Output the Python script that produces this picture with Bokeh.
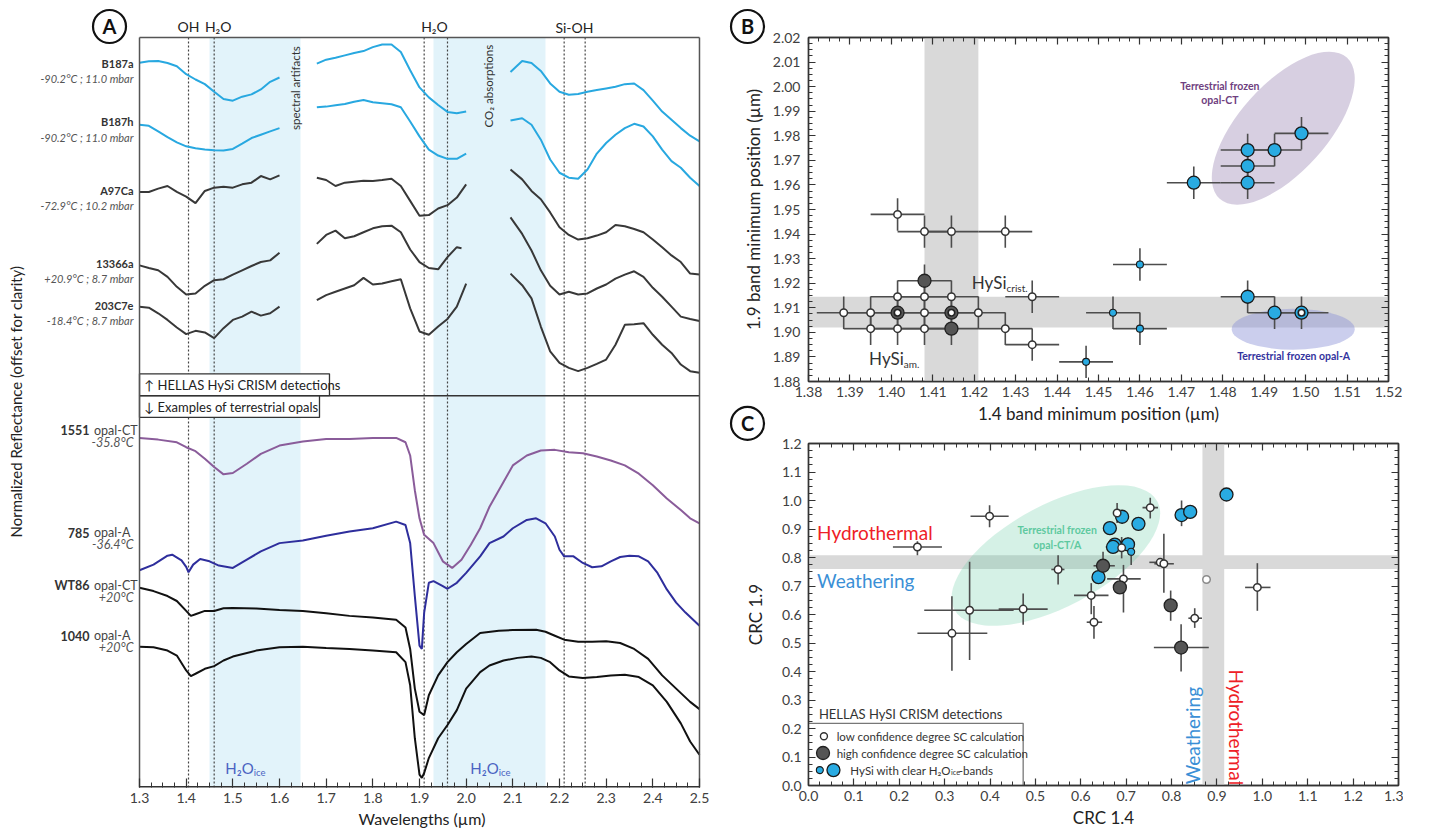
import numpy as np
from bokeh.plotting import figure
from bokeh.models import Range1d, Label, BoxAnnotation, LinearAxis, FixedTicker, NumeralTickFormatter, Title
from bokeh.layouts import row, column
from bokeh.embed import file_html
from bokeh.resources import INLINE

FONT = "Lato"
nan = float("nan")

# ======================= PANEL A DATA (offset reflectance, arbitrary units, increasing downward) =======================
SEG1_WL = [1.30, 1.32, 1.34, 1.36, 1.38, 1.40, 1.42, 1.44, 1.46, 1.48, 1.50, 1.52, 1.54, 1.56, 1.58, 1.60]
SEG2_WL = [1.68, 1.70, 1.72, 1.74, 1.76, 1.78, 1.80, 1.82, 1.84, 1.86, 1.88, 1.90, 1.92, 1.94, 1.96, 1.98, 2.00]
SEG2_WL_B = [1.68, 1.70, 1.72, 1.74, 1.76, 1.78, 1.80, 1.82, 1.84, 1.86, 1.88, 1.90, 1.92, 1.94, 1.96, 1.98, 1.99]
SEG3_WL = [2.095, 2.12, 2.14, 2.16, 2.18, 2.20, 2.22, 2.24, 2.26, 2.28, 2.30, 2.32, 2.34, 2.36, 2.38, 2.40,
           2.42, 2.44, 2.46, 2.48, 2.50]

B187A_1 = [187, 183, 182, 188, 198, 222, 238, 252, 275, 297, 302, 290, 283, 268, 245, 232]
B187A_2 = [190, 178, 172, 165, 158, 152, 140, 132, 132, 155, 210, 262, 292, 315, 336, 340, 335]
B187A_3 = [215, 182, 188, 212, 250, 275, 284, 282, 275, 270, 265, 260, 252, 250, 270, 302, 335, 360, 385, 408, 425]

B187H_1 = [375, 378, 395, 412, 428, 440, 446, 450, 452, 453, 448, 432, 415, 405, 395, 385]
B187H_2 = [322, 320, 316, 312, 305, 300, 307, 310, 313, 322, 365, 410, 450, 468, 478, 478, 462]
B187H_3 = [362, 355, 375, 420, 480, 520, 535, 538, 510, 462, 430, 405, 385, 372, 380, 410, 450, 485, 505, 535, 560]

A97CA_1 = [578, 578, 568, 560, 578, 592, 612, 575, 565, 562, 565, 555, 550, 530, 540, 528]
A97CA_2 = [535, 542, 560, 550, 547, 544, 545, 542, 538, 560, 605, 650, 648, 628, 618, 595, 555]
A97CA_3 = [510, 540, 575, 600, 640, 685, 708, 722, 718, 710, 700, 678, 682, 690, 700, 722, 745, 770, 790, 825, 828]

S13366A_1 = [800, 808, 815, 835, 865, 888, 885, 862, 845, 842, 828, 815, 802, 790, 785, 762]
S13366A_2 = [735, 708, 695, 718, 712, 700, 688, 682, 680, 700, 752, 790, 808, 812, 775, 745, 748]
S13366A_3 = [655, 705, 755, 815, 862, 888, 880, 888, 885, 870, 858, 840, 828, 818, 835, 868, 895, 925, 955, 962, 968]

S203C7E_1 = [925, 928, 945, 965, 988, 1008, 998, 1003, 1020, 990, 965, 955, 940, 952, 945, 925]
S203C7E_2 = [905, 890, 880, 870, 860, 838, 858, 855, 848, 842, 930, 1000, 1010, 985, 962, 925, 855]
S203C7E_3 = [825, 860, 900, 985, 1060, 1095, 1110, 1120, 1110, 1098, 1085, 1040, 980, 978, 975, 1010, 1040, 1065,
             1100, 1120, 1125]

L1551_WL = [1.30, 1.34, 1.38, 1.40, 1.42, 1.44, 1.46, 1.48, 1.50, 1.53, 1.56, 1.60, 1.65, 1.70, 1.75, 1.80, 1.85,
            1.87, 1.88, 1.89, 1.90, 1.91, 1.93, 1.95, 1.97, 1.99, 2.01, 2.03, 2.05, 2.08, 2.10, 2.13, 2.16, 2.19,
            2.22, 2.25, 2.28, 2.31, 2.34, 2.37, 2.40, 2.43, 2.46, 2.48, 2.50]
L1551 = [122, 127, 135, 150, 162, 185, 210, 232, 228, 200, 170, 145, 133, 125, 125, 122, 122, 135, 175, 280, 365,
         415, 440, 495, 515, 490, 445, 395, 330, 255, 205, 175, 160, 158, 165, 168, 178, 190, 205, 230, 265, 305,
         340, 365, 380]

L785_WL = [1.30, 1.33, 1.36, 1.37, 1.39, 1.40, 1.405, 1.415, 1.43, 1.45, 1.47, 1.50, 1.53, 1.56, 1.60, 1.65, 1.70,
           1.75, 1.80, 1.85, 1.87, 1.88, 1.89, 1.90, 1.905, 1.91, 1.92, 1.93, 1.95, 1.96, 1.98, 2.00, 2.03, 2.05,
           2.08, 2.10, 2.13, 2.15, 2.17, 2.19, 2.20, 2.21, 2.23, 2.25, 2.27, 2.29, 2.31, 2.33, 2.35, 2.37, 2.39,
           2.41, 2.43, 2.45, 2.47, 2.50]
L785 = [522, 505, 478, 475, 492, 512, 528, 505, 488, 495, 508, 515, 490, 465, 440, 432, 418, 405, 395, 375, 385,
        440, 600, 750, 760, 650, 560, 555, 570, 578, 560, 530, 480, 440, 420, 395, 370, 365, 380, 420, 460, 480,
        480, 500, 513, 510, 495, 482, 478, 480, 495, 530, 580, 620, 650, 690]

LWT86_WL = [1.30, 1.33, 1.36, 1.38, 1.40, 1.41, 1.42, 1.44, 1.46, 1.48, 1.50, 1.55, 1.60, 1.65, 1.70, 1.75, 1.80,
            1.85, 1.87, 1.88, 1.89, 1.90, 1.91, 1.92, 1.94, 1.96, 1.98, 2.00, 2.03, 2.07, 2.10, 2.15, 2.17, 2.19,
            2.21, 2.24, 2.27, 2.30, 2.33, 2.36, 2.39, 2.42, 2.45, 2.48, 2.50]
LWT86 = [575, 585, 600, 615, 645, 660, 655, 645, 645, 637, 636, 638, 642, 645, 652, 660, 665, 672, 695, 760, 880,
         950, 960, 900, 840, 800, 770, 745, 712, 705, 703, 702, 708, 720, 732, 738, 738, 737, 742, 760, 790, 840,
         880, 920, 942]

L1040_WL = [1.30, 1.33, 1.36, 1.38, 1.40, 1.41, 1.42, 1.44, 1.46, 1.48, 1.50, 1.55, 1.60, 1.65, 1.70, 1.75, 1.80,
            1.85, 1.87, 1.88, 1.89, 1.90, 1.905, 1.91, 1.92, 1.94, 1.96, 1.98, 2.00, 2.03, 2.05, 2.08, 2.11, 2.14,
            2.16, 2.18, 2.20, 2.22, 2.25, 2.28, 2.31, 2.34, 2.37, 2.40, 2.43, 2.46, 2.48, 2.50]
L1040 = [753, 755, 765, 780, 825, 842, 835, 820, 812, 795, 783, 765, 755, 753, 757, 760, 765, 770, 800, 870, 1030,
         1140, 1150, 1135, 1090, 1030, 990, 945, 880, 830, 810, 795, 787, 783, 787, 800, 825, 843, 848, 845, 840,
         838, 845, 870, 920, 985, 1040, 1080]
LAB_OFFSET = 1200

CRISM_NAMES = ["B187a", "B187h", "A97Ca", "13366a", "203C7e"]
CRISM_COND = ["-90.2°C ; 11.0 mbar", "-90.2°C ; 11.0 mbar", "-72.9°C ; 10.2 mbar", "+20.9°C ; 8.7 mbar",
              "-18.4°C ; 8.7 mbar"]
LAB_NAMES = ["1551", "785", "WT86", "1040"]
LAB_TYPES = ["opal-CT", "opal-A", "opal-CT", "opal-A"]
LAB_TEMPS = ["-35.8°C", "-36.4°C", "+20°C", "+20°C"]

ABS_LINES = [1.405, 1.46, 1.91, 1.96, 2.21, 2.255]
ICE_BANDS = [(1.45, 1.645), (1.93, 2.17)]

# ======================= PANEL B DATA =======================
B_X = [1.4015, 1.408, 1.4145, 1.4275, 1.408, 1.4015, 1.408, 1.4145, 1.434, 1.3885, 1.395, 1.4015, 1.408, 1.4145,
       1.421, 1.395, 1.4015, 1.408, 1.4145, 1.4275, 1.434, 1.447, 1.4535, 1.460, 1.460, 1.473, 1.486, 1.486, 1.486,
       1.4925, 1.499, 1.486, 1.4925, 1.499]
B_Y = [1.948, 1.941, 1.941, 1.941, 1.921, 1.9145, 1.9145, 1.9145, 1.9145, 1.908, 1.908, 1.908, 1.908, 1.908,
       1.908, 1.9015, 1.9015, 1.9015, 1.9015, 1.9015, 1.895, 1.888, 1.908, 1.9015, 1.9276, 1.9609, 1.9609, 1.9677,
       1.9742, 1.9742, 1.981, 1.9145, 1.908, 1.908]
B_KIND = ["low", "low", "low", "low", "high", "low", "low", "low", "low", "low", "low", "both", "low", "both",
          "low", "low", "low", "low", "high", "low", "low", "hysi_s", "hysi_s", "hysi_s", "hysi_s", "hysi", "hysi",
          "hysi", "hysi", "hysi", "hysi", "hysi", "hysi", "hysi_ring"]
B_XERR = 0.0065
B_YERR = 0.0066

# ======================= PANEL C DATA =======================
C_X = [0.399, 0.240, 0.550, 0.473, 0.355, 0.316, 0.623, 0.629, 0.680, 0.753, 0.690, 0.694, 0.775, 0.783, 0.877,
       0.989, 0.851, 0.649, 0.686, 0.798, 0.821, 0.921, 0.822, 0.841, 0.691, 0.727, 0.664, 0.675, 0.671, 0.704,
       0.639, 0.711]
C_Y = [0.945, 0.837, 0.758, 0.619, 0.615, 0.534, 0.667, 0.573, 0.956, 0.975, 0.834, 0.725, 0.783, 0.778, 0.723,
       0.695, 0.587, 0.771, 0.695, 0.632, 0.484, 1.021, 0.949, 0.960, 0.943, 0.918, 0.903, 0.845, 0.837, 0.846,
       0.731, 0.820]
C_XLO = [0.357, 0.186, 0.535, 0.419, 0.255, 0.240, 0.585, 0.613, 0.672, 0.736, nan, 0.658, 0.751, 0.762, nan,
         0.962, 0.837, 0.628, nan, 0.785, 0.761, nan, nan, nan, nan, nan, nan, nan, 0.655, nan, nan, nan]
C_XHI = [0.441, 0.294, 0.564, 0.527, 0.452, 0.394, 0.661, 0.647, 0.688, 0.770, nan, 0.732, 0.792, 0.805, nan,
         1.018, 0.867, 0.675, nan, 0.812, 0.882, nan, nan, nan, nan, nan, nan, nan, 0.685, nan, nan, nan]
C_YLO = [0.906, 0.808, 0.705, 0.564, 0.440, 0.403, 0.601, 0.515, 0.921, 0.937, 0.797, 0.607, nan, 0.676, nan,
         0.613, 0.553, 0.728, 0.680, 0.578, 0.400, nan, 0.910, nan, nan, nan, nan, nan, nan, 0.820, nan, 0.774]
C_YHI = [0.983, 0.857, 0.808, 0.674, 0.785, 0.664, 0.710, 0.630, 0.991, 1.010, 0.872, 0.774, nan, 0.883, nan,
         0.780, 0.622, 0.820, 0.712, 0.684, 0.566, nan, 1.000, nan, nan, nan, nan, nan, nan, 0.870, nan, 0.843]
C_KIND = ["low", "low", "low", "low", "low", "low", "low", "low", "low", "low", "low", "low", "low", "low",
          "faint", "low", "low", "high", "high", "high", "high", "hysi", "hysi", "hysi", "hysi", "hysi", "hysi",
          "hysi", "hysi", "hysi", "hysi", "hysi_s"]

# ======================= STYLES =======================
CRISM_BLUE = "#28a8e0"
CRISM_DARK = "#383838"
PURPLE = "#8a5c9a"
NAVY = "#2e2e9c"
BLACK = "#111111"
PT_BLUE = "#29abe2"
PT_DARK = "#555555"
GRAY_BAND = "#d9d9d9"
ICE_BLUE = "#e2f3fa"
BOX_TOP, BOX_BOTTOM = 111, 2379      # panel A box limits in offset units


def lab(p, x, y, text, size=12, color="#333333", style="normal", align="left", baseline="middle", angle=0):
    p.add_layout(Label(x=x, y=y, text=text, text_font=FONT, text_font_size=f"{size}px", text_color=color,
                       text_font_style=style, text_align=align, text_baseline=baseline, angle=angle,
                       angle_units="deg"))


def style_axis(ax, ticks, minor, fmt, labels=True):
    ax.ticker = FixedTicker(ticks=ticks, minor_ticks=minor)
    ax.formatter = NumeralTickFormatter(format=fmt)
    ax.major_tick_in = 7
    ax.major_tick_out = 0
    ax.minor_tick_in = 4
    ax.minor_tick_out = 0
    ax.axis_line_color = "#333333"
    ax.axis_line_width = 1.4
    ax.major_tick_line_color = "#333333"
    ax.major_tick_line_width = 1.2
    ax.minor_tick_line_color = "#333333"
    ax.minor_tick_line_width = 1
    ax.major_label_text_font = FONT
    ax.major_label_standoff = 5
    if labels:
        ax.major_label_text_font_size = "14px"
        ax.major_label_text_color = "#404040"
    else:
        ax.major_label_text_font_size = "1px"
        ax.major_label_text_color = None
    ax.axis_label_text_font = FONT
    ax.axis_label_text_font_style = "normal"
    ax.axis_label_text_font_size = "17px"
    ax.axis_label_text_color = "#222222"
    ax.axis_label_standoff = 3


def ticks(a, b, step, nd):
    return [round(v, nd) for v in np.arange(a, b + step / 2, step)]


# ======================= PANEL A (frame extended over the label margins) =======================
pA = figure(frame_width=768, frame_height=787, x_range=Range1d(1.0021, 2.6479), y_range=Range1d(2379, -0.9),
            output_backend="svg", toolbar_location=None, min_border_left=0, min_border_right=0,
            min_border_top=0, min_border_bottom=44)
pA.xgrid.visible = False
pA.ygrid.visible = False
pA.yaxis.visible = False
pA.outline_line_color = None
style_axis(pA.xaxis[0], ticks(1.3, 2.5, 0.1, 2), ticks(1.3, 2.5, 0.025, 3), "0.0")
pA.xaxis.major_tick_in = 9
pA.xaxis.minor_tick_in = 5
pA.xaxis.axis_line_color = None
pA.add_layout(Title(text="Wavelengths (µm)", align="left", offset=358, text_font=FONT, text_font_size="16px",
                    text_font_style="normal", text_color="#222222", standoff=2), "below")

for lo, hi in ICE_BANDS:
    pA.add_layout(BoxAnnotation(left=lo, right=hi, top=BOX_TOP, bottom=BOX_BOTTOM, fill_color=ICE_BLUE,
                                fill_alpha=1, line_color=None, level="underlay"))
pA.segment(x0=ABS_LINES, x1=ABS_LINES, y0=BOX_TOP, y1=BOX_BOTTOM, line_color="#444444", line_width=1.2,
           line_dash="2 2")

crism = [
    (CRISM_BLUE, [(SEG1_WL, B187A_1), (SEG2_WL, B187A_2), (SEG3_WL, B187A_3)]),
    (CRISM_BLUE, [(SEG1_WL, B187H_1), (SEG2_WL, B187H_2), (SEG3_WL, B187H_3)]),
    (CRISM_DARK, [(SEG1_WL, A97CA_1), (SEG2_WL, A97CA_2), (SEG3_WL, A97CA_3)]),
    (CRISM_DARK, [(SEG1_WL, S13366A_1), (SEG2_WL_B, S13366A_2), (SEG3_WL, S13366A_3)]),
    (CRISM_DARK, [(SEG1_WL, S203C7E_1), (SEG2_WL, S203C7E_2), (SEG3_WL, S203C7E_3)]),
]
for color, segs in crism:
    for wl, vals in segs:
        pA.line(wl, vals, line_color=color, line_width=2)

labspec = [(PURPLE, L1551_WL, L1551), (NAVY, L785_WL, L785), (BLACK, LWT86_WL, LWT86), (BLACK, L1040_WL, L1040)]
for color, wl, vals in labspec:
    pA.line(wl, [v + LAB_OFFSET for v in vals], line_color=color, line_width=2)

# legend boxes / separator / visible frame of panel A
pA.quad(left=[1.3, 1.3], right=[1.7071, 1.6857], top=[1128, 1194], bottom=[1194, 1260], fill_color="white",
        line_color="#333333", line_width=1.3)
pA.segment(x0=[1.3], x1=[2.5], y0=[1194], y1=[1194], line_color="#333333", line_width=1.5)
pA.segment(x0=[1.3, 1.3, 2.5, 1.3], x1=[2.5, 1.3, 2.5, 2.5], y0=[BOX_TOP, BOX_TOP, BOX_TOP, BOX_BOTTOM],
           y1=[BOX_TOP, BOX_BOTTOM, BOX_BOTTOM, BOX_BOTTOM], line_color=["#555555", "#555555", "#555555", "#333333"],
           line_width=[1.5, 1.5, 1.5, 3])
lab(pA, 1.3107, 1161, "↑ HELLAS HySi CRISM detections", 13, "#222222")
lab(pA, 1.3107, 1227, "↓ Examples of terrestrial opals", 13, "#222222")

CRISM_LABEL_Y = [189, 366, 573, 795, 921]
for name, cond, yy in zip(CRISM_NAMES, CRISM_COND, CRISM_LABEL_Y):
    lab(pA, 1.2871, yy, name, 11, "#333333", "bold", "right")
    lab(pA, 1.2871, yy + 46, cond, 11, "#555555", "italic", "right")
LAB_LABEL_Y = [1299, 1608, 1767, 1920]
for name, typ, temp, yy in zip(LAB_NAMES, LAB_TYPES, LAB_TEMPS, LAB_LABEL_Y):
    lab(pA, 1.1929, yy, name, 12.5, "#333333", "bold", "right")
    lab(pA, 1.2025, yy, typ, 12.5, "#444444", "normal", "left")
    lab(pA, 1.2871, yy + 36, temp, 12.5, "#555555", "italic", "right")

lab(pA, 1.0343, 1212, "Normalized Reflectance (offset for clarity)", 15, "#222222", align="center", angle=90)
lab(pA, 1.405, 78, "OH", 14, "#222222", align="center")
lab(pA, 1.4686, 78, "H₂O", 14, "#222222", align="center")
lab(pA, 1.932, 78, "H₂O", 14, "#222222", align="center")
lab(pA, 2.232, 82, "Si-OH", 14, "#222222", align="center")
lab(pA, 1.634, 264, "spectral artifacts", 11.5, "#333333", align="center", angle=90)
lab(pA, 2.048, 258, "CO₂ absorptions", 11.5, "#333333", align="center", angle=90)
lab(pA, 1.5449, 2319, "H₂O", 15, "#4a63c2", align="right")
lab(pA, 1.5449, 2334, "ice", 9.5, "#4a63c2", align="left")
lab(pA, 2.0700, 2319, "H₂O", 15, "#4a63c2", align="right")
lab(pA, 2.0700, 2334, "ice", 9.5, "#4a63c2", align="left")

# panel letters and the y-axis titles of panels B and C (drawn in panel A's extended frame)
pA.scatter([1.2357, 2.6029, 2.6029], [77.7, 77.7, 1278], size=33, fill_color="white", line_color="#111111",
           line_width=2.2)
for lx, ly, letter in [(1.2357, 77.7, "A"), (2.6029, 77.7, "B"), (2.6029, 1278, "C")]:
    lab(pA, lx, ly, letter, 20, "#111111", "bold", "center")
lab(pA, 2.6157, 631, "1.9 band minimum position (µm)", 17, "#222222", align="center", angle=90)
lab(pA, 2.6200, 1856, "CRC 1.9", 17, "#222222", align="center", angle=90)

# ======================= PANEL B =======================
pB = figure(frame_width=580, frame_height=344, x_range=Range1d(1.38, 1.52), y_range=Range1d(1.88, 2.02),
            output_backend="svg", toolbar_location=None, min_border_left=40, min_border_right=14,
            min_border_top=37, min_border_bottom=46)
pB.xgrid.visible = False
pB.ygrid.visible = False
pB.outline_line_color = "#333333"
pB.outline_line_width = 1.4
bxt, bxm = ticks(1.38, 1.52, 0.01, 2), ticks(1.38, 1.52, 0.0025, 4)
byt, bym = ticks(1.88, 2.02, 0.01, 2), ticks(1.88, 2.02, 0.0025, 4)
style_axis(pB.xaxis[0], bxt, bxm, "0.00")
style_axis(pB.yaxis[0], byt, bym, "0.00")
pB.yaxis.major_label_standoff = 8
pB.xaxis.axis_label = "1.4 band minimum position (µm)"
axT = LinearAxis()
style_axis(axT, bxt, bxm, "0.00", labels=False)
pB.add_layout(axT, "above")
axR = LinearAxis()
style_axis(axR, byt, bym, "0.00", labels=False)
pB.add_layout(axR, "right")

pB.add_layout(BoxAnnotation(left=1.408, right=1.421, fill_color=GRAY_BAND, fill_alpha=1, line_color=None,
                            level="underlay"))
pB.add_layout(BoxAnnotation(bottom=1.902, top=1.9145, fill_color=GRAY_BAND, fill_alpha=1, line_color=None,
                            level="underlay"))
pB.ellipse(x=[1.4946], y=[1.9831], width=[190], height=[88], angle=[48], width_units="screen",
           height_units="screen", angle_units="deg", fill_color="#a08cb8", fill_alpha=0.42, line_color=None)
pB.ellipse(x=[1.4970], y=[1.9013], width=[123], height=[41], angle=[0], width_units="screen",
           height_units="screen", angle_units="deg", fill_color="#8c93d6", fill_alpha=0.45, line_color=None)

bx = np.array(B_X)
by = np.array(B_Y)
pB.segment(x0=bx - B_XERR, x1=bx + B_XERR, y0=by, y1=by, line_color="#4d4d4d", line_width=1.6)
pB.segment(x0=bx, x1=bx, y0=by - B_YERR, y1=by + B_YERR, line_color="#4d4d4d", line_width=1.6)


def sel(xs, ys, kinds, wanted):
    idx = [i for i, k in enumerate(kinds) if k in wanted]
    return [xs[i] for i in idx], [ys[i] for i in idx]


x_, y_ = sel(B_X, B_Y, B_KIND, ("high", "both"))
pB.scatter(x_, y_, size=13, fill_color=PT_DARK, line_color="#222222", line_width=1.3)
x_, y_ = sel(B_X, B_Y, B_KIND, ("hysi", "hysi_ring"))
pB.scatter(x_, y_, size=13, fill_color=PT_BLUE, line_color="#1a1a1a", line_width=1.3)
x_, y_ = sel(B_X, B_Y, B_KIND, ("hysi_s",))
pB.scatter(x_, y_, size=7, fill_color=PT_BLUE, line_color="#1a1a1a", line_width=1.1)
x_, y_ = sel(B_X, B_Y, B_KIND, ("low",))
pB.scatter(x_, y_, size=7.5, fill_color="white", line_color="#333333", line_width=1.5)
x_, y_ = sel(B_X, B_Y, B_KIND, ("both", "hysi_ring"))
pB.scatter(x_, y_, size=6.5, fill_color="white", line_color="#222222", line_width=1.6)

lab(pB, 1.4030, 1.8895, "HySi", 17, "#333333", align="right")
lab(pB, 1.4030, 1.8873, "am.", 10, "#333333")
lab(pB, 1.4278, 1.9202, "HySi", 17, "#333333", align="right")
lab(pB, 1.4278, 1.9180, "crist.", 10, "#333333")
lab(pB, 1.4793, 2.0004, "Terrestrial frozen", 10.5, "#6f3f80", "bold", "center")
lab(pB, 1.4793, 1.9947, "opal-CT", 10.5, "#6f3f80", "bold", "center")
lab(pB, 1.4971, 1.8903, "Terrestrial frozen opal-A", 10.5, "#34349e", "bold", "center")

# ======================= PANEL C =======================
pC = figure(frame_width=590, frame_height=342, x_range=Range1d(0, 1.3), y_range=Range1d(0, 1.2),
            output_backend="svg", toolbar_location=None, min_border_left=31, min_border_right=14,
            min_border_top=16, min_border_bottom=46)
pC.xgrid.visible = False
pC.ygrid.visible = False
pC.outline_line_color = "#333333"
pC.outline_line_width = 1.4
cxt, cxm = ticks(0, 1.3, 0.1, 2), ticks(0, 1.3, 0.025, 3)
cyt, cym = ticks(0, 1.2, 0.1, 2), ticks(0, 1.2, 0.025, 3)
style_axis(pC.xaxis[0], cxt, cxm, "0.0")
style_axis(pC.yaxis[0], cyt, cym, "0.0")
pC.yaxis.major_label_standoff = 7
pC.xaxis.axis_label = "CRC 1.4"
axT2 = LinearAxis()
style_axis(axT2, cxt, cxm, "0.0", labels=False)
pC.add_layout(axT2, "above")
axR2 = LinearAxis()
style_axis(axR2, cyt, cym, "0.0", labels=False)
pC.add_layout(axR2, "right")

pC.add_layout(BoxAnnotation(left=0.868, right=0.916, fill_color=GRAY_BAND, fill_alpha=1, line_color=None,
                            level="underlay"))
pC.add_layout(BoxAnnotation(bottom=0.760, top=0.808, fill_color=GRAY_BAND, fill_alpha=1, line_color=None,
                            level="underlay"))
pC.ellipse(x=[0.545], y=[0.807], width=[230], height=[102], angle=[28], width_units="screen",
           height_units="screen", angle_units="deg", fill_color="#5cc8a0", fill_alpha=0.26, line_color=None)

pC.segment(x0=C_XLO, x1=C_XHI, y0=C_Y, y1=C_Y, line_color="#4d4d4d", line_width=1.6)
pC.segment(x0=C_X, x1=C_X, y0=C_YLO, y1=C_YHI, line_color="#4d4d4d", line_width=1.6)

x_, y_ = sel(C_X, C_Y, C_KIND, ("hysi",))
pC.scatter(x_, y_, size=13, fill_color=PT_BLUE, line_color="#1a1a1a", line_width=1.3)
x_, y_ = sel(C_X, C_Y, C_KIND, ("hysi_s",))
pC.scatter(x_, y_, size=7, fill_color=PT_BLUE, line_color="#1a1a1a", line_width=1.1)
x_, y_ = sel(C_X, C_Y, C_KIND, ("low",))
pC.scatter(x_, y_, size=7.5, fill_color="white", line_color="#333333", line_width=1.5)
x_, y_ = sel(C_X, C_Y, C_KIND, ("faint",))
pC.scatter(x_, y_, size=7.5, fill_color="white", line_color="#8a8a8a", line_width=1.5)
x_, y_ = sel(C_X, C_Y, C_KIND, ("high",))
pC.scatter(x_, y_, size=13, fill_color=PT_DARK, line_color="#222222", line_width=1.3)

lab(pC, 0.019, 0.889, "Hydrothermal", 19, "#ee2026")
lab(pC, 0.019, 0.718, "Weathering", 19, "#3a8fd6")
lab(pC, 0.846, 0.175, "Weathering", 19, "#3a8fd6", align="center", angle=90)
lab(pC, 0.942, 0.204, "Hydrothermal", 19, "#ee2026", align="center", angle=-90)
lab(pC, 0.548, 0.895, "Terrestrial frozen", 10.5, "#5ec9a0", "bold", "center")
lab(pC, 0.548, 0.845, "opal-CT/A", 10.5, "#5ec9a0", "bold", "center")

# legend
pC.quad(left=[0.0], right=[0.473], bottom=[0.0], top=[0.218], fill_color="white", line_color="#777777",
        line_width=1.3)
lab(pC, 0.023, 0.250, "HELLAS HySI CRISM detections", 13, "#333333")
pC.scatter([0.034], [0.173], size=7, fill_color="white", line_color="#333333", line_width=1.4)
pC.scatter([0.032], [0.114], size=13, fill_color=PT_DARK, line_color="#222222", line_width=1.3)
pC.scatter([0.025], [0.054], size=7, fill_color=PT_BLUE, line_color="#1a1a1a", line_width=1.1)
pC.scatter([0.055], [0.054], size=13, fill_color=PT_BLUE, line_color="#1a1a1a", line_width=1.3)
lab(pC, 0.062, 0.173, "low confidence degree SC calculation", 11.5, "#333333")
lab(pC, 0.062, 0.114, "high confidence degree SC calculation", 11.5, "#333333")
lab(pC, 0.314, 0.054, "HySi with clear H₂O", 11.5, "#333333", align="right")
lab(pC, 0.314, 0.044, "ice", 7.5, "#333333")
lab(pC, 0.331, 0.054, "-bands", 11.5, "#333333")

layout = row(pA, column(pB, pC))
open("out.html", "w").write(file_html(layout, INLINE, title="HySi opal spectra"))
